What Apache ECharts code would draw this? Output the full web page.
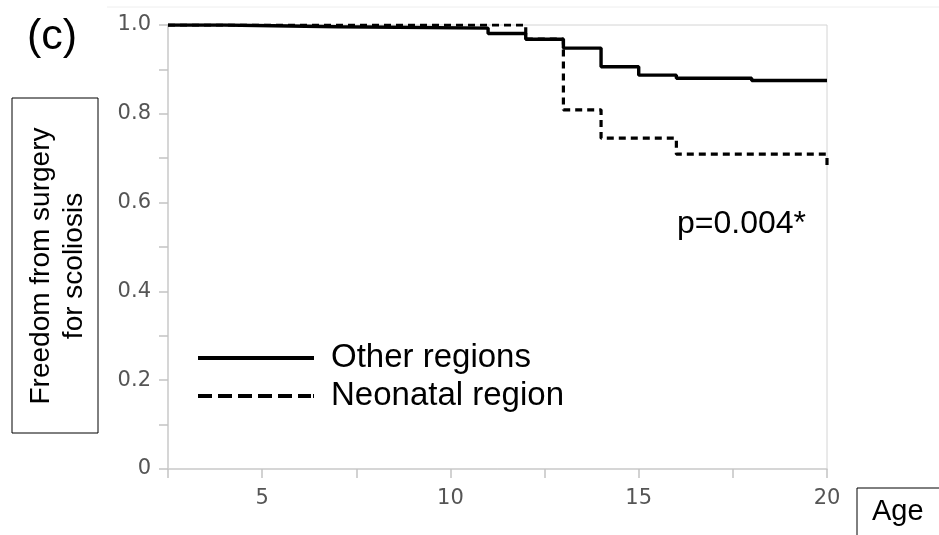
<!DOCTYPE html>
<html>
<head>
<meta charset="utf-8">
<script src="https://cdn.jsdelivr.net/npm/echarts@6/dist/echarts.min.js"></script>
<style>
html,body{margin:0;padding:0;background:#fff;}
#chart{width:939px;height:535px;}
</style>
</head>
<body>
<div id="chart"></div>
<script>
// Kaplan-Meier step data (age, freedom from surgery)
const otherAge  = [2.5, 4, 7, 11, 12, 13, 14, 15, 16, 18, 20];
const otherSurv = [1.0, 0.996, 0.993, 0.981, 0.968, 0.948, 0.906, 0.887, 0.880, 0.875, 0.875];
const neoAge    = [2.5, 12, 13, 14, 16, 20];
const neoSurv   = [1.0, 0.968, 0.809, 0.745, 0.709, 0.675];
const seriesNames = ['Other regions', 'Neonatal region'];
const xTickValues = [5, 10, 15, 20];
const yTickValues = [0, 0.2, 0.4, 0.6, 0.8, 1.0];
const pText = 'p=0.004*';

const chart = echarts.init(document.getElementById('chart'), null, {renderer: 'canvas'});
const pair = (xs, ys) => xs.map((x, i) => [x, ys[i]]);
const labelFont = 'DejaVu Sans';
const txtFont = 'Liberation Sans, Arial, sans-serif';

// legend icon paths (shape only)
const solidIcon = 'path://M0,0L116,0L116,4L0,4Z';
const dashIcon = 'path://M0,0h14v4h-14Z M20,0h14v4h-14Z M40,0h14v4h-14Z M60,0h14v4h-14Z M80,0h14v4h-14Z M100,0h13v4h-13Z M115,0h1v4h-1Z';

chart.setOption({
  animation: false,
  backgroundColor: '#fff',
  grid: {left: 168, top: 25, right: 112, bottom: 66, show: true, borderColor: '#d4d4d4', borderWidth: 1},
  xAxis: {
    type: 'value', min: 2.5, max: 20, interval: 2.5,
    axisLine: {show: true, lineStyle: {color: '#cfcfcf', width: 1.5}},
    axisTick: {show: true, length: 9, lineStyle: {color: '#c4c4c4', width: 1.5}},
    splitLine: {show: false},
    axisLabel: {
      margin: 19, color: '#555', fontFamily: labelFont, fontSize: 21,
      formatter: v => (xTickValues.indexOf(Math.round(v * 10) / 10) >= 0 ? String(Math.round(v)) : '')
    }
  },
  yAxis: {
    type: 'value', min: 0, max: 1, interval: 0.1,
    axisLine: {show: true, lineStyle: {color: '#cfcfcf', width: 1.5}},
    axisTick: {show: true, length: 9, lineStyle: {color: '#c4c4c4', width: 1.5}},
    splitLine: {show: false},
    axisLabel: {
      margin: 17, color: '#555', fontFamily: labelFont, fontSize: 21,
      formatter: v => {
        const r = Math.round(v * 10) / 10;
        if (yTickValues.indexOf(r) < 0) return '';
        return r === 0 ? '0' : r.toFixed(1);
      }
    }
  },
  legend: {
    orient: 'vertical', left: 193, top: 334,
    itemWidth: 116, itemHeight: 14, itemGap: 0,
    textStyle: {fontFamily: txtFont, fontSize: 33, color: '#000', lineHeight: 38, padding: [0, 0, 0, 12]},
    data: [
      {name: seriesNames[0], icon: solidIcon, itemStyle: {color: '#000'}},
      {name: seriesNames[1], icon: dashIcon, itemStyle: {color: '#000'}}
    ]
  },
  series: [
    {
      name: seriesNames[0], type: 'line', step: 'end', symbol: 'none',
      data: pair(otherAge, otherSurv),
      lineStyle: {color: '#000', width: 3.4}, itemStyle: {color: '#000'}, z: 2
    },
    {
      name: seriesNames[1], type: 'line', step: 'end', symbol: 'none',
      data: pair(neoAge, neoSurv),
      lineStyle: {color: '#000', width: 3.2, type: [7, 5]}, itemStyle: {color: '#000'}, z: 3
    }
  ],
  graphic: [
    {type: 'line', shape: {x1: 107, y1: 7, x2: 939, y2: 7}, style: {stroke: '#eeeeee', lineWidth: 1}, silent: true},
    {type: 'text', left: 27, top: 16, style: {text: '(c)', font: '43px ' + txtFont, fill: '#000'}},
    {type: 'rect', shape: {x: 12, y: 98, width: 86, height: 335}, style: {fill: 'none', stroke: '#000', lineWidth: 1}},
    {type: 'text', x: 58, y: 266, rotation: Math.PI / 2,
     style: {text: 'Freedom from surgery\nfor scoliosis', font: '28px ' + txtFont, fill: '#000',
             align: 'center', verticalAlign: 'middle', lineHeight: 33}},
    {type: 'rect', shape: {x: 857, y: 488, width: 100, height: 60}, style: {fill: 'none', stroke: '#000', lineWidth: 1}},
    {type: 'text', x: 872, y: 512, style: {text: 'Age', font: '29px ' + txtFont, fill: '#000', verticalAlign: 'middle'}},
    {type: 'text', x: 677, y: 224, style: {text: pText, font: '32px ' + txtFont, fill: '#000', verticalAlign: 'middle'}}
  ]
});
</script>
</body>
</html>
